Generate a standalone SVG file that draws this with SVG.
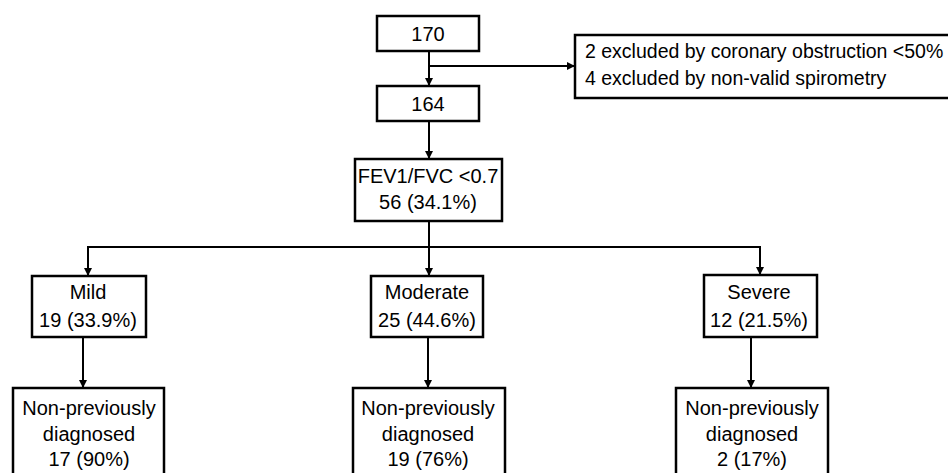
<svg xmlns="http://www.w3.org/2000/svg" width="948" height="473" viewBox="0 0 948 473">
<defs>
<marker id="ah" markerWidth="8" markerHeight="8" refX="7" refY="4" orient="auto" markerUnits="userSpaceOnUse">
<path d="M0,0 L8,4 L0,8 Z" fill="#000"/>
</marker>
<style>
.box{fill:#fff;stroke:#000;stroke-width:2.5}
.t{font-family:"Liberation Sans",Arial,sans-serif;font-size:20px;fill:#000;text-anchor:middle}
.tl{font-family:"Liberation Sans",Arial,sans-serif;font-size:19.5px;fill:#000}
.c{fill:none;stroke:#000;stroke-width:2}
</style>
</defs>
<rect width="948" height="473" fill="#fff"/>
<g id="connectors">
<path class="c" d="M429,51 V85" marker-end="url(#ah)"/>
<path class="c" d="M429,66 H574" marker-end="url(#ah)"/>
<path class="c" d="M429,121 V158" marker-end="url(#ah)"/>
<path class="c" d="M429,221 V275" marker-end="url(#ah)"/>
<path class="c" d="M88,275 V247 H760 V274" marker-end="url(#ah)"/>
<path class="c" d="M88,247 V275" marker-end="url(#ah)"/>
<path class="c" d="M83,337 V387" marker-end="url(#ah)"/>
<path class="c" d="M428,337 V387" marker-end="url(#ah)"/>
<path class="c" d="M751,337 V387" marker-end="url(#ah)"/>
</g>
<g id="n170">
<rect class="box" x="377" y="16" width="102" height="35"/>
<text class="t" x="428" y="41">170</text>
</g>
<g id="excluded">
<rect class="box" x="575" y="35" width="380" height="63"/>
<text class="tl" x="585" y="58">2 excluded by coronary obstruction &lt;50%</text>
<text class="tl" x="585" y="85">4 excluded by non-valid spirometry</text>
</g>
<g id="n164">
<rect class="box" x="377" y="86" width="102" height="35"/>
<text class="t" x="428" y="111">164</text>
</g>
<g id="fev">
<rect class="box" x="355" y="159" width="147" height="62"/>
<text class="t" x="428" y="183">FEV1/FVC &lt;0.7</text>
<text class="t" x="428" y="209">56 (34.1%)</text>
</g>
<g id="mild">
<rect class="box" x="32" y="276" width="114" height="61"/>
<text class="t" x="88" y="299">Mild</text>
<text class="t" x="88" y="327">19 (33.9%)</text>
</g>
<g id="moderate">
<rect class="box" x="371" y="276" width="112" height="61"/>
<text class="t" x="427" y="299">Moderate</text>
<text class="t" x="427" y="327">25 (44.6%)</text>
</g>
<g id="severe">
<rect class="box" x="704" y="275" width="113" height="62"/>
<text class="t" x="759" y="299">Severe</text>
<text class="t" x="759" y="327">12 (21.5%)</text>
</g>
<g id="np1">
<rect class="box" x="13" y="388" width="151" height="100"/>
<text class="t" x="89" y="415">Non-previously</text>
<text class="t" x="89" y="441">diagnosed</text>
<text class="t" x="89" y="466">17 (90%)</text>
</g>
<g id="np2">
<rect class="box" x="353" y="388" width="152" height="100"/>
<text class="t" x="428" y="415">Non-previously</text>
<text class="t" x="428" y="441">diagnosed</text>
<text class="t" x="428" y="466">19 (76%)</text>
</g>
<g id="np3">
<rect class="box" x="676" y="388" width="152" height="100"/>
<text class="t" x="752" y="415">Non-previously</text>
<text class="t" x="752" y="441">diagnosed</text>
<text class="t" x="752" y="466">2 (17%)</text>
</g>
</svg>
